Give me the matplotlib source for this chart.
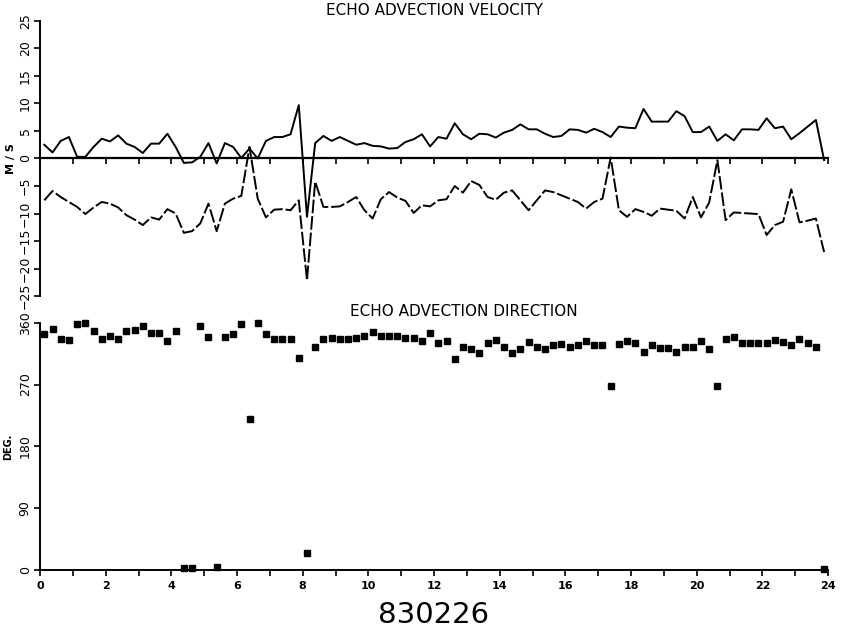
import matplotlib
matplotlib.use('Agg')
import matplotlib.pyplot as plt
from matplotlib.ticker import MultipleLocator

# hours (sample every 15 minutes)
hours = [0.13, 0.38, 0.63, 0.88, 1.13, 1.38, 1.63, 1.88, 2.13, 2.38, 2.63, 2.88,
         3.13, 3.38, 3.63, 3.88, 4.13, 4.38, 4.63, 4.88, 5.13, 5.38, 5.63, 5.88,
         6.13, 6.38, 6.63, 6.88, 7.13, 7.38, 7.63, 7.88, 8.13, 8.38, 8.63, 8.88,
         9.13, 9.38, 9.63, 9.88, 10.13, 10.38, 10.63, 10.88, 11.13, 11.38, 11.63, 11.88,
         12.13, 12.38, 12.63, 12.88, 13.13, 13.38, 13.63, 13.88, 14.13, 14.38, 14.63, 14.88,
         15.13, 15.38, 15.63, 15.88, 16.13, 16.38, 16.63, 16.88, 17.13, 17.38, 17.63, 17.88,
         18.13, 18.38, 18.63, 18.88, 19.13, 19.38, 19.63, 19.88, 20.13, 20.38, 20.63, 20.88,
         21.13, 21.38, 21.63, 21.88, 22.13, 22.38, 22.63, 22.88, 23.13, 23.38, 23.63, 23.88]

# velocity components, m/s
u_speed = [2.5, 1.1, 3.2, 3.9, 0.3, 0.3, 2.1, 3.6, 3.1, 4.2, 2.7, 2.1,
           1.0, 2.7, 2.7, 4.5, 2.1, -0.8, -0.7, 0.3, 2.8, -0.9, 2.8, 2.1,
           0.1, 1.8, 0.0, 3.2, 3.9, 3.9, 4.4, 9.7, -10.6, 2.8, 4.1, 3.2,
           3.9, 3.2, 2.5, 2.8, 2.3, 2.2, 1.8, 1.9, 3.0, 3.5, 4.4, 2.2,
           3.9, 3.6, 6.4, 4.4, 3.5, 4.5, 4.4, 3.8, 4.7, 5.2, 6.2, 5.3,
           5.3, 4.5, 3.9, 4.1, 5.3, 5.2, 4.7, 5.4, 4.8, 3.9, 5.8, 5.6,
           5.5, 9.0, 6.7, 6.7, 6.7, 8.6, 7.7, 4.8, 4.8, 5.8, 3.2, 4.4,
           3.3, 5.3, 5.3, 5.2, 7.3, 5.5, 5.8, 3.5, 4.6, 5.8, 7.0, -0.3]

v_speed = [-7.6, -5.9, -7.0, -7.9, -8.8, -10.1, -8.9, -7.9, -8.2, -8.9, -10.3, -11.1,
           -12.1, -10.7, -11.1, -9.2, -10.0, -13.5, -13.2, -11.8, -8.2, -13.2, -8.2, -7.3,
           -6.8, 2.1, -7.3, -10.7, -9.3, -9.2, -9.4, -7.6, -22.1, -4.2, -8.8, -8.8,
           -8.7, -7.9, -7.0, -9.4, -10.9, -7.4, -6.1, -7.1, -7.7, -9.9, -8.5, -8.7,
           -7.6, -7.4, -5.0, -6.2, -4.1, -4.8, -7.0, -7.5, -6.2, -5.8, -7.6, -9.4,
           -7.6, -5.8, -6.1, -6.7, -7.3, -7.9, -9.1, -7.9, -7.3, 0.2, -9.4, -10.6,
           -9.2, -9.7, -10.4, -9.1, -9.3, -9.5, -10.9, -7.0, -10.7, -8.0, -0.3, -11.2,
           -9.8, -9.9, -10.0, -10.1, -13.9, -12.1, -11.5, -5.6, -11.6, -11.3, -10.9, -17.0]

# direction, degrees
direction = [343, 351, 337, 335, 358, 360, 348, 336, 340, 336, 348, 350,
             355, 345, 345, 333, 348, 3, 3, 355, 339, 4, 339, 343,
             358, 220, 360, 343, 337, 337, 336, 308, 25, 325, 336, 338,
             336, 337, 338, 340, 346, 340, 340, 340, 338, 338, 333, 345,
             331, 334, 307, 325, 321, 316, 330, 335, 324, 316, 321, 332,
             324, 321, 327, 329, 324, 328, 333, 327, 327, 268, 329, 334,
             330, 318, 327, 323, 323, 318, 325, 325, 333, 321, 268, 337,
             339, 330, 330, 331, 331, 335, 332, 327, 337, 331, 325, 1]

fig = plt.figure(figsize=(8.41, 6.34), dpi=100)
ax1 = fig.add_axes([0.0476, 0.533, 0.937, 0.434])
ax2 = fig.add_axes([0.0476, 0.101, 0.937, 0.39])

# velocity panel
ax1.plot(hours, u_speed, color='black', lw=1.4)
ax1.plot(hours, v_speed, color='black', lw=1.4, dashes=(7, 1.5))
ax1.set_xlim(0, 24)
ax1.set_ylim(-25, 25)
ax1.spines['top'].set_visible(False)
ax1.spines['right'].set_visible(False)
ax1.spines['bottom'].set_position(('data', 0))
ax1.spines['bottom'].set_linewidth(1.6)
ax1.spines['left'].set_linewidth(1.4)
ax1.xaxis.set_major_locator(MultipleLocator(1))
ax1.tick_params(axis='x', direction='out', length=4, width=1.2, labelbottom=False)
ax1.set_yticks(range(-25, 26, 5))
ax1.tick_params(axis='y', direction='out', length=4, width=1.2, labelsize=9, pad=2)
for lab in ax1.get_yticklabels():
    lab.set_rotation(90)
    lab.set_va('center')
ax1.set_ylabel('M / S', fontsize=8, labelpad=2, fontweight='bold')
ax1.set_title('ECHO ADVECTION VELOCITY', fontsize=11, pad=4)

# direction panel
ax2.plot(hours, direction, 's', color='black', markersize=4.5, clip_on=False)
ax2.set_xlim(0, 24)
ax2.set_ylim(0, 360)
ax2.spines['top'].set_visible(False)
ax2.spines['right'].set_visible(False)
ax2.spines['bottom'].set_linewidth(1.4)
ax2.spines['left'].set_linewidth(1.4)
ax2.set_xticks(range(0, 25))
ax2.set_xticklabels([str(h) if h % 2 == 0 else '' for h in range(0, 25)],
                    fontsize=8, fontweight='bold')
ax2.tick_params(axis='x', direction='out', length=4, width=1.2, pad=4)
ax2.set_yticks([0, 90, 180, 270, 360])
ax2.tick_params(axis='y', direction='out', length=4, width=1.2, labelsize=9, pad=2)
for lab in ax2.get_yticklabels():
    lab.set_rotation(90)
    lab.set_va('center')
ax2.set_ylabel('DEG.', fontsize=7, labelpad=4, fontweight='bold')
ax2.text(12.9, 365, 'ECHO ADVECTION DIRECTION', fontsize=11, ha='center', va='bottom')

fig.text(0.515, 0.008, '830226', fontsize=21, ha='center', va='bottom')

fig.savefig('out.png', dpi=100)
